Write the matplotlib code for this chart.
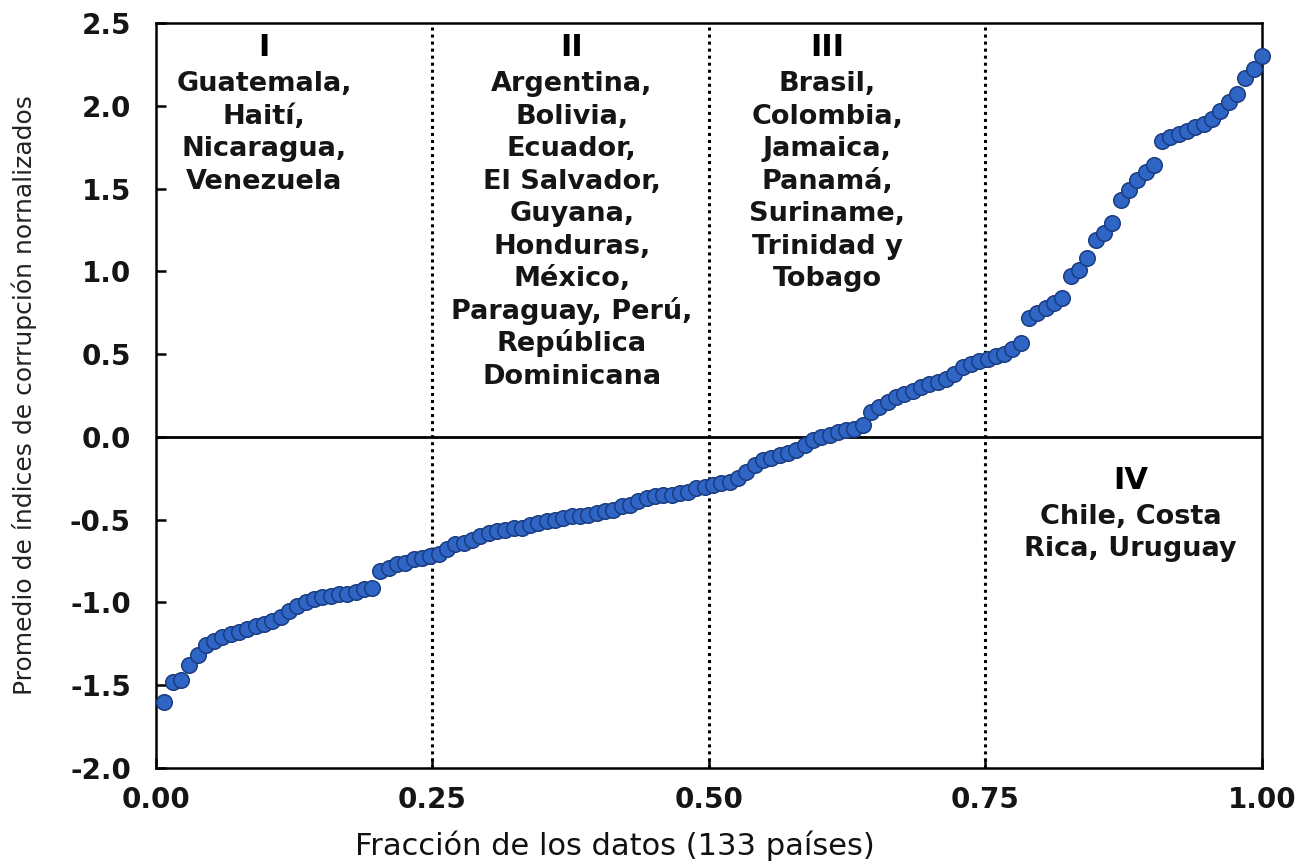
import numpy as np
import matplotlib
matplotlib.use('Agg')
import matplotlib.pyplot as plt

# promedio de indices de corrupcion normalizados, ordenados (133 paises)
n_paises = 133
indice = [
    -1.60, -1.48, -1.47, -1.38, -1.32, -1.26, -1.23, -1.21, -1.19, -1.18,
    -1.16, -1.14, -1.13, -1.11, -1.09, -1.05, -1.02, -1.00, -0.98, -0.97,
    -0.96, -0.95, -0.95, -0.94, -0.92, -0.91, -0.81, -0.79, -0.77, -0.76,
    -0.74, -0.73, -0.72, -0.71, -0.68, -0.65, -0.64, -0.62, -0.60, -0.58,
    -0.57, -0.56, -0.55, -0.55, -0.53, -0.52, -0.51, -0.50, -0.49, -0.48,
    -0.48, -0.47, -0.46, -0.45, -0.44, -0.42, -0.41, -0.39, -0.37, -0.36,
    -0.35, -0.35, -0.34, -0.33, -0.31, -0.30, -0.29, -0.28, -0.27, -0.25,
    -0.21, -0.17, -0.14, -0.13, -0.11, -0.10, -0.08, -0.05, -0.02, 0.00,
    0.01, 0.03, 0.04, 0.05, 0.07, 0.15, 0.18, 0.21, 0.24, 0.26,
    0.28, 0.30, 0.32, 0.33, 0.35, 0.38, 0.42, 0.44, 0.46, 0.47,
    0.49, 0.50, 0.53, 0.57, 0.72, 0.75, 0.78, 0.81, 0.84, 0.97,
    1.01, 1.08, 1.19, 1.23, 1.29, 1.43, 1.49, 1.55, 1.60, 1.64,
    1.79, 1.81, 1.83, 1.85, 1.87, 1.89, 1.92, 1.97, 2.02, 2.07,
    2.17, 2.22, 2.30,
]
frac = np.arange(1, n_paises + 1) / n_paises

cortes = [0.25, 0.50, 0.75]
xticks = [0.0, 0.25, 0.50, 0.75, 1.0]
xtick_labels = ['0.00', '0.25', '0.50', '0.75', '1.00']
yticks = [-2.0, -1.5, -1.0, -0.5, 0.0, 0.5, 1.0, 1.5, 2.0, 2.5]
ytick_labels = ['-2.0', '-1.5', '-1.0', '-0.5', '0.0', '0.5', '1.0', '1.5', '2.0', '2.5']

grupos = ['I', 'II', 'III', 'IV']
grupo_x = [0.098, 0.376, 0.607, 0.881]
grupo_y = [2.30, 2.30, 2.30, -0.314]
paises_y = [2.089, 2.089, 2.089, -0.525]
grupo_paises = [
    ['Guatemala,', 'Haití,', 'Nicaragua,', 'Venezuela'],
    ['Argentina,', 'Bolivia,', 'Ecuador,', 'El Salvador,', 'Guyana,',
     'Honduras,', 'México,', 'Paraguay, Perú,', 'República', 'Dominicana'],
    ['Brasil,', 'Colombia,', 'Jamaica,', 'Panamá,', 'Suriname,',
     'Trinidad y', 'Tobago'],
    ['Chile, Costa', 'Rica, Uruguay'],
]

plt.rcParams['font.family'] = ['DejaVu Sans']

fig = plt.figure(figsize=(13.03, 8.66), dpi=100)
ax = fig.add_axes([0.1197, 0.1132, 0.8488, 0.8602])

ax.axhline(0, color='black', lw=2.0, zorder=1)
for c in cortes:
    ax.axvline(c, color='black', lw=2.2, linestyle=(0, (1, 1.3)), zorder=1)

ax.scatter(frac, indice, s=125, c='#2f66c6', edgecolors='#1b3c80',
           linewidths=1.1, zorder=3, clip_on=False)

ax.set_xlim(0, 1)
ax.set_ylim(-2.0, 2.5)
ax.set_xticks(xticks)
ax.set_xticklabels(xtick_labels)
ax.set_yticks(yticks)
ax.set_yticklabels(ytick_labels)
ax.tick_params(direction='in', length=7, width=1.8, labelsize=20,
               colors='black')
for lab in ax.get_xticklabels() + ax.get_yticklabels():
    lab.set_fontweight('bold')
    lab.set_color('#151515')
ax.tick_params(axis='x', pad=13)
ax.tick_params(axis='y', pad=18)
for s in ax.spines.values():
    s.set_linewidth(1.8)
    s.set_color('black')

for k in range(len(grupos)):
    ax.text(grupo_x[k], grupo_y[k], grupos[k], ha='center', va='baseline',
            fontsize=22, fontweight='bold', color='black')
    for j, nombre in enumerate(grupo_paises[k]):
        ax.annotate(nombre, xy=(grupo_x[k], paises_y[k]),
                    xytext=(0, -23.4 * j), textcoords='offset points',
                    ha='center', va='baseline', fontsize=19.5,
                    fontweight='bold', color='#151515')

ax.set_ylabel('Promedio de índices de corrupción nornalizados',
              fontsize=18, labelpad=24, color='#222222')
fig.text(0.472, 0.013, 'Fracción de los datos (133 países)', ha='center',
         va='baseline', fontsize=22, color='#111111')

fig.savefig('out.png', dpi=100)
